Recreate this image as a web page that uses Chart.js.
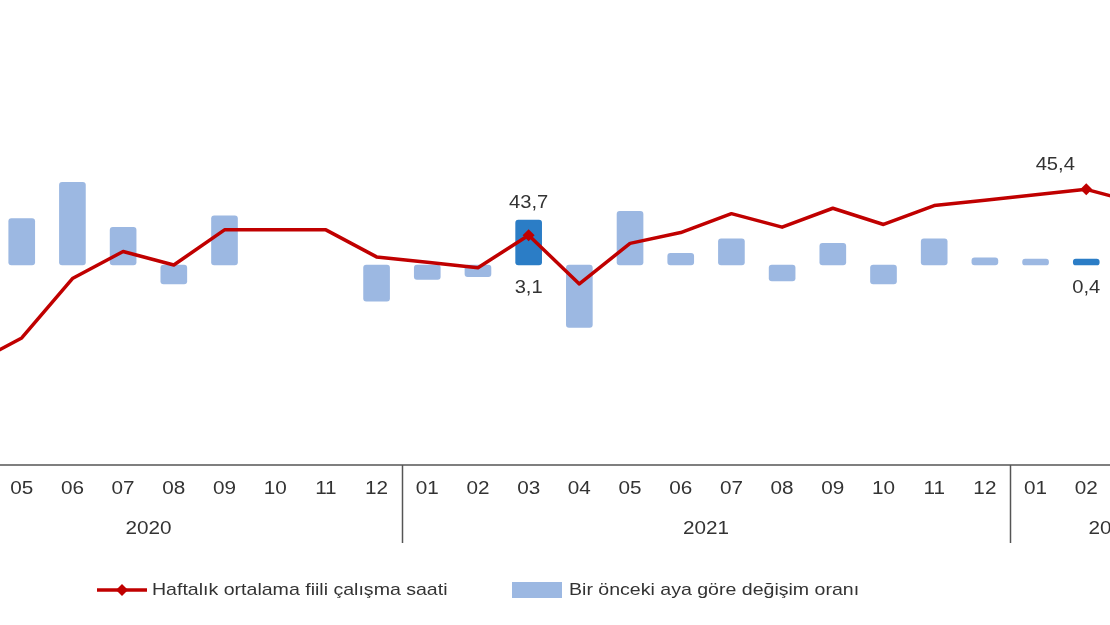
<!DOCTYPE html>
<html>
<head>
<meta charset="utf-8">
<script src="https://cdn.jsdelivr.net/npm/chart.js@4/dist/chart.umd.min.js"></script>
<style>
  html, body { margin: 0; padding: 0; background: #fff; overflow: hidden; }
  #wrap { position: relative; width: 1110px; height: 625px; overflow: hidden; }
  #c { position: absolute; left: -105px; top: 0; }
</style>
</head>
<body>
<div id="wrap"><canvas id="c" width="1318" height="625"></canvas></div>
<script>
// months shown on the axis (03/2020 .. 04/2022), the picture is a crop of a wider chart
const months = ['03','04','05','06','07','08','09','10','11','12',
                '01','02','03','04','05','06','07','08','09','10','11','12',
                '01','02','03','04'];
const years = ['2020','2020','2020','2020','2020','2020','2020','2020','2020','2020',
               '2021','2021','2021','2021','2021','2021','2021','2021','2021','2021','2021','2021',
               '2022','2022','2022','2022'];

// Haftalık ortalama fiili çalışma saati
const hours = [null, 38.9, 39.9, 42.1, 43.1, 42.6, 43.9, 43.9, 43.9, 42.9,
               42.7, 42.5, 43.7, 41.9, 43.4, 43.8, 44.5, 44.0, 44.7, 44.1, 44.8, 45.0,
               45.2, 45.4, 44.9, null];
// Bir önceki aya göre değişim oranı (%)
const change = [null, null, 3.2, 5.7, 2.6, -1.3, 3.4, 0, 0, -2.5,
                -1.0, -0.8, 3.1, -4.3, 3.7, 0.8, 1.8, -1.1, 1.5, -1.3, 1.8, 0.5,
                0.4, 0.4, -1.1, null];

const marked = [12, 23]; // months with value labels

const RED = '#c00000';
const LIGHT = '#9cb8e2';
const DARK = '#2b7dc6';
const TEXT = '#333333';
const SHIFT = -105; // canvas left in page pixels
const FONT = '"Liberation Sans", Arial, sans-serif';

const fmt = v => v.toFixed(1).replace('.', ',');

// text in the picture is a bit wider than plain Arial
function wideText(ctx, str, x, y, sx) {
  ctx.save();
  ctx.translate(x, y);
  ctx.scale(sx, 1);
  ctx.fillText(str, 0, 0);
  ctx.restore();
}

const extras = {
  id: 'extras',
  afterDraw(chart) {
    const ctx = chart.ctx;
    const x = chart.scales.x;
    const area = chart.chartArea;
    const px = i => x.getPixelForValue(i);
    ctx.save();

    // axis line
    ctx.strokeStyle = '#555';
    ctx.lineWidth = 1.5;
    ctx.beginPath();
    ctx.moveTo(area.left, area.bottom);
    ctx.lineTo(area.right, area.bottom);
    ctx.stroke();

    // month labels
    ctx.fillStyle = TEXT;
    ctx.font = '18px ' + FONT;
    ctx.textAlign = 'center';
    ctx.textBaseline = 'middle';
    months.forEach((m, i) => wideText(ctx, m, px(i), area.bottom + 24, 1.15));

    // year groups
    let start = 0;
    for (let i = 1; i <= years.length; i++) {
      if (i === years.length || years[i] !== years[start]) {
        wideText(ctx, years[start], (px(start) + px(i - 1)) / 2, area.bottom + 64, 1.15);
        if (i < years.length) {
          const sx = Math.round((px(i - 1) + px(i)) / 2) + 0.5;
          ctx.lineWidth = 1.5;
          ctx.beginPath();
          ctx.moveTo(sx, area.bottom);
          ctx.lineTo(sx, area.bottom + 78);
          ctx.stroke();
        }
        start = i;
      }
    }

    // value labels
    const lineMeta = chart.getDatasetMeta(0);
    const barMeta = chart.getDatasetMeta(1);
    ctx.font = '18px ' + FONT;
    marked.forEach((i, k) => {
      const p = lineMeta.data[i];
      const b = barMeta.data[i];
      if (k === 0) {
        wideText(ctx, fmt(hours[i]), p.x, p.y - 32, 1.12);
      } else {
        wideText(ctx, fmt(hours[i]), p.x - 31, p.y - 24, 1.12);
      }
      wideText(ctx, fmt(change[i]), b.x, b.base + 23, 1.12);
    });

    // legend (page coordinates)
    const L = v => v - SHIFT;
    ctx.strokeStyle = RED;
    ctx.lineWidth = 3.5;
    ctx.beginPath();
    ctx.moveTo(L(97), 590);
    ctx.lineTo(L(147), 590);
    ctx.stroke();
    ctx.fillStyle = RED;
    ctx.beginPath();
    ctx.moveTo(L(122), 584);
    ctx.lineTo(L(128), 590);
    ctx.lineTo(L(122), 596);
    ctx.lineTo(L(116), 590);
    ctx.closePath();
    ctx.fill();
    ctx.fillStyle = LIGHT;
    ctx.fillRect(L(512), 582, 50, 16);
    ctx.fillStyle = TEXT;
    ctx.font = '17px ' + FONT;
    ctx.textAlign = 'left';
    wideText(ctx, 'Haftalık ortalama fiili çalışma saati', L(152), 590, 1.15);
    wideText(ctx, 'Bir önceki aya göre değişim oranı', L(569), 590, 1.15);
    ctx.restore();
  }
};

new Chart(document.getElementById('c'), {
  data: {
    labels: months,
    datasets: [
      {
        type: 'line',
        label: 'Haftalık ortalama fiili çalışma saati',
        data: hours,
        yAxisID: 'yh',
        borderColor: RED,
        backgroundColor: RED,
        borderWidth: 3.5,
        tension: 0,
        borderJoinStyle: 'round',
        pointStyle: 'rectRot',
        pointRadius: ctx => marked.includes(ctx.dataIndex) ? 6 : 0,
        pointBorderWidth: 0
      },
      {
        type: 'bar',
        label: 'Bir önceki aya göre değişim oranı',
        data: change,
        yAxisID: 'yc',
        backgroundColor: ctx => {
          if (!ctx.raw) return 'rgba(0,0,0,0)';
          return marked.includes(ctx.dataIndex) ? DARK : LIGHT;
        },
        borderRadius: 3,
        borderSkipped: false,
        barThickness: 26
      }
    ]
  },
  options: {
    responsive: false,
    animation: false,
    events: [],
    layout: { padding: { top: 65, bottom: 160, left: 0, right: 0 } },
    plugins: { legend: { display: false }, tooltip: { enabled: false } },
    scales: {
      x: { display: false, offset: true },
      yh: { display: false, min: 35.2, max: 50.0 },
      yc: { display: false, min: -13.8, max: 13.8 }
    }
  },
  plugins: [extras]
});
</script>
</body>
</html>
